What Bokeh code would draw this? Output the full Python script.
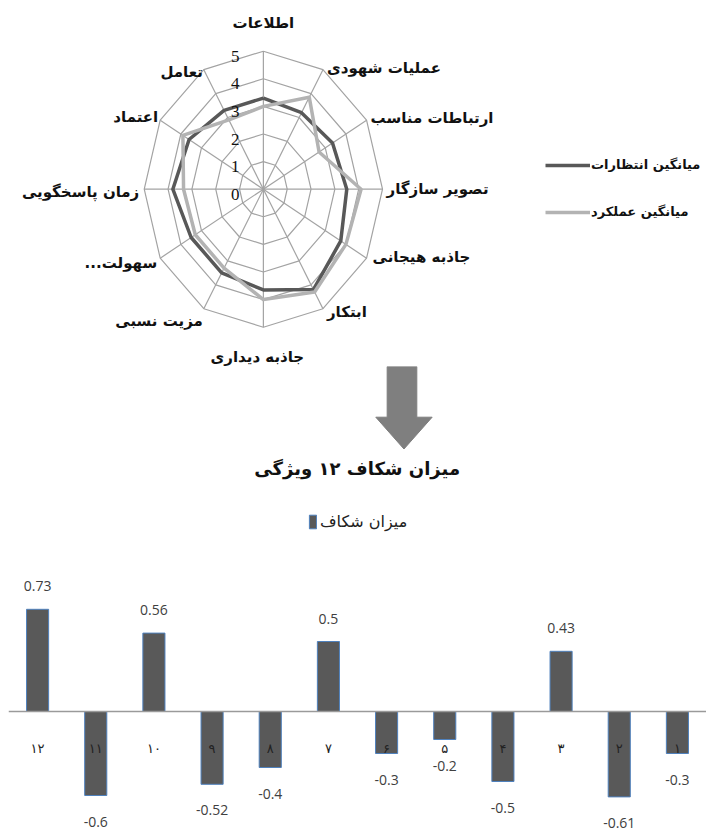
import math
from bokeh.plotting import figure
from bokeh.layouts import column
from bokeh.models import (Range1d, FactorRange, Span, Label, Legend, LegendItem,
                          ColumnDataSource)
from bokeh.core.properties import value
from bokeh.embed import file_html
from bokeh.resources import INLINE

# ---------------- data ----------------
radar_categories = ["اطلاعات", "عملیات شهودی", "ارتباطات مناسب", "تصویر سازگار",
                    "جاذبه هیجانی", "ابتکار", "جاذبه دیداری", "مزیت نسبی",
                    "...سهولت", "زمان پاسخگویی", "اعتماد", "تعامل"]
expectations = [3.3, 3.2, 3.35, 3.5, 3.75, 4.2, 3.65, 3.5, 3.5, 3.8, 3.6, 3.3]
performance = [3.0, 3.85, 2.7, 4.1, 4.0, 4.3, 4.0, 3.3, 3.3, 3.35, 3.9, 2.9]
radar_ticks = [0, 1, 2, 3, 4, 5]
radar_series = ["میانگین انتظارات", "میانگین عملکرد"]

gap_categories = ["۱۲", "۱۱", "۱۰", "۹", "۸", "۷", "۶", "۵", "۴", "۳", "۲", "۱"]
gap_values = [0.73, -0.6, 0.56, -0.52, -0.4, 0.5, -0.3, -0.2, -0.5, 0.43, -0.61, -0.3]
gap_title = "میزان شکاف ۱۲ ویژگی"
gap_series = "میزان شکاف"

# ---------------- styles ----------------
W = 706
RADAR_H, MID_H, BAR_H = 366, 89, 376
GRID_C = "#a3a3a3"
DARK_C = "#585858"
LIGHT_C = "#b3b3b3"
ARROW_C = "#7f7f7f"
BAR_C = "#595959"
BAR_EDGE = "#4f81bd"
FA_FONT = "DejaVu Sans"


def clean(p):
    p.grid.visible = False
    p.outline_line_color = None
    p.background_fill_color = "white"
    p.border_fill_color = "white"


# ---------------- radar ----------------
cx_px, cy_px = 257.8, 188.7
sx, sy = 24.1, 27.6  # px per unit
rp = figure(width=W, height=RADAR_H, output_backend="svg", toolbar_location=None,
            x_range=Range1d(-cx_px / sx, (W - cx_px) / sx),
            y_range=Range1d(-(RADAR_H - cy_px) / sy, cy_px / sy),
            x_axis_location=None, y_axis_location=None, min_border=0)
clean(rp)

N = len(radar_categories)
angles = [2 * math.pi * i / N for i in range(N)]
rmax = radar_ticks[-1]


def closed(vals):
    xs = [v * math.sin(a) for v, a in zip(vals, angles)]
    ys = [v * math.cos(a) for v, a in zip(vals, angles)]
    return xs + xs[:1], ys + ys[:1]


rings = [closed([r] * N) for r in radar_ticks[1:]]
rp.multi_line([r[0] for r in rings], [r[1] for r in rings], line_color=GRID_C, line_width=1.2)
rp.segment(x0=[0] * N, y0=[0] * N,
           x1=[rmax * math.sin(a) for a in angles],
           y1=[rmax * math.cos(a) for a in angles],
           line_color=GRID_C, line_width=1.2)

dx, dy = closed(expectations)
r_dark = rp.line(dx, dy, line_color=DARK_C, line_width=3.5, line_join="round")
lx, ly = closed(performance)
r_light = rp.line(lx, ly, line_color=LIGHT_C, line_width=3.5, line_join="round")

# tick labels
rp.text(x=[0] * len(radar_ticks), y=radar_ticks, text=[str(t) for t in radar_ticks],
        x_offset=-24, y_offset=5, text_align="right", text_baseline="middle",
        text_font=value("Liberation Serif"), text_font_size="17px", text_color="#111111")

# category labels
aligns = ["center", "left", "left", "left", "left", "left", "center",
          "right", "right", "right", "right", "right"]
x_offs = [0, 4, 4, 4, 6, 4, -6, -1, -3, -5, -2, -1]
y_offs = [-28, -2, -2, 0, -1, 3, 30, 12, 5, 3, -3, 2]
lab_src = ColumnDataSource(dict(
    x=[rmax * math.sin(a) for a in angles],
    y=[rmax * math.cos(a) for a in angles],
    text=radar_categories, align=aligns, xo=x_offs, yo=y_offs))
rp.text(x="x", y="y", text="text", text_align="align", x_offset="xo", y_offset="yo",
        text_baseline="middle", source=lab_src,
        text_font=value(FA_FONT), text_font_size="15px", text_font_style="bold",
        text_color="#111111")

rleg = Legend(items=[LegendItem(label=radar_series[0], renderers=[r_dark]),
                     LegendItem(label=radar_series[1], renderers=[r_light])],
              location=(537, RADAR_H - 221.7), padding=0, margin=0, spacing=27,
              glyph_width=45, glyph_height=20, label_height=20, label_standoff=1,
              border_line_color=None, background_fill_alpha=0,
              label_text_font=FA_FONT, label_text_font_size="13px",
              label_text_font_style="bold", label_text_color="#111111")
rp.add_layout(rleg)

# ---------------- arrow ----------------
top0 = RADAR_H
mp = figure(width=W, height=MID_H, output_backend="svg", toolbar_location=None,
            x_range=Range1d(0, W), y_range=Range1d(top0 + MID_H, top0),
            x_axis_location=None, y_axis_location=None, min_border=0)
clean(mp)
mp.patch([383, 413, 413, 428.5, 400, 371.5, 383, 383],
         [366, 366, 416.7, 416.7, 448.5, 416.7, 416.7, 366],
         fill_color=ARROW_C, line_color=ARROW_C, line_width=1)

# ---------------- bars ----------------
ZERO_FROM_TOP = 711 - (RADAR_H + MID_H)
PX_PER_UNIT = 140
bp = figure(width=W, height=BAR_H, output_backend="svg", toolbar_location=None,
            x_range=FactorRange(factors=gap_categories, range_padding=0),
            y_range=Range1d(-(BAR_H - ZERO_FROM_TOP) / PX_PER_UNIT, ZERO_FROM_TOP / PX_PER_UNIT),
            x_axis_location=None, y_axis_location=None,
            min_border=0, min_border_left=8, min_border_right=0,
            min_border_top=0, min_border_bottom=0)
clean(bp)

src = ColumnDataSource(dict(
    cat=gap_categories, val=gap_values, zero=[0] * len(gap_values),
    lab=[str(v) for v in gap_values],
    lab_off=[-23 if v >= 0 else 26 for v in gap_values]))

bars = bp.vbar(x="cat", top="val", bottom=0, width=0.38, source=src,
               fill_color=BAR_C, line_color=BAR_EDGE, line_width=1)
bp.add_layout(Span(location=0, dimension="width", line_color="#9a9a9a", line_width=1.5))

bp.text(x="cat", y="val", text="lab", y_offset="lab_off", source=src,
        text_align="center", text_baseline="middle",
        text_font=value("Open Sans"), text_font_size="14px", text_color="#404040")
bp.text(x="cat", y="zero", text="cat", y_offset=37, source=src,
        text_align="center", text_baseline="middle",
        text_font=value(FA_FONT), text_font_size="13px", text_color="#222222")

bp.add_layout(Label(x=356.7 - 8, y=BAR_H - 13, x_units="screen", y_units="screen",
                    text=gap_title, text_align="center", text_baseline="middle",
                    text_font=FA_FONT, text_font_size="18px", text_font_style="bold",
                    text_color="#111111"))

bleg = Legend(items=[LegendItem(label=gap_series, renderers=[bars])],
              location=(300, BAR_H - 66.7 - 9), padding=0, margin=0,
              glyph_width=9, glyph_height=17, label_height=17, label_standoff=3,
              border_line_color=None, background_fill_alpha=0,
              label_text_font=FA_FONT, label_text_font_size="16px",
              label_text_color="#222222")
bp.add_layout(bleg)

layout = column(rp, mp, bp, spacing=0)
open("out.html", "w").write(file_html(layout, INLINE))
